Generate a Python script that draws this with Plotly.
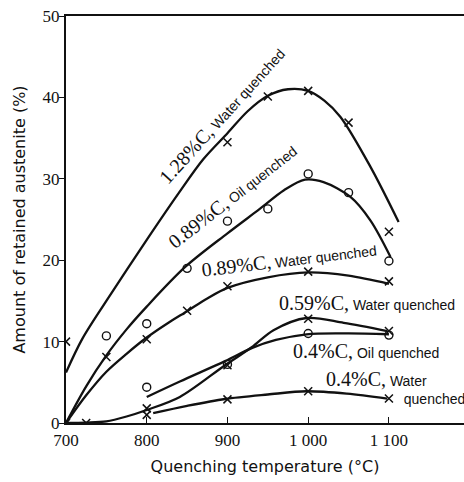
import plotly.graph_objects as go

# ---- marker data (measured points) ----
T_128 = [700, 900, 950, 1000, 1050, 1100]
V_128 = [10.0, 34.5, 40.1, 40.8, 36.9, 23.5]

T_089_OIL = [750, 800, 850, 900, 950, 1000, 1050, 1100]
V_089_OIL = [10.7, 12.2, 19.0, 24.8, 26.3, 30.6, 28.3, 19.9]

T_089_W = [750, 800, 850, 900, 1000, 1100]
V_089_W = [8.1, 10.3, 13.8, 16.8, 18.6, 17.4]

T_059_W = [700, 725, 800, 900, 1000, 1100]
V_059_W = [0.0, 0.0, 1.8, 7.1, 12.8, 11.3]

T_04_OIL = [800, 900, 1000, 1100]
V_04_OIL = [4.4, 7.2, 11.0, 10.8]

T_04_W = [800, 900, 1000, 1100]
V_04_W = [1.0, 2.9, 3.9, 3.0]

# ---- hand-drawn fitted curves ----
CT_128 = [700, 720, 750, 800, 840, 870, 900, 925, 950, 975, 1000, 1020, 1040, 1077, 1112]
CV_128 = [6.2, 10.3, 15.0, 22.5, 28.3, 32.4, 35.6, 38.3, 40.2, 41.0, 40.8, 39.6, 37.6, 31.5, 24.7]

CT_089_OIL = [700, 725, 750, 775, 800, 848, 900, 940, 970, 996, 1019, 1052, 1077, 1102]
CV_089_OIL = [0.0, 4.5, 8.3, 11.5, 14.3, 19.2, 23.3, 26.3, 28.6, 29.9, 29.6, 27.8, 24.9, 20.4]

CT_089_W = [700, 725, 750, 775, 800, 825, 851, 875, 900, 950, 1000, 1050, 1100]
CV_089_W = [0.0, 3.4, 6.3, 8.5, 10.5, 12.2, 13.8, 15.3, 16.6, 17.9, 18.5, 18.1, 17.1]

CT_059_W = [700, 725, 750, 775, 800, 841, 897, 930, 957, 998, 1044, 1098]
CV_059_W = [0.0, 0.05, 0.2, 0.8, 1.6, 3.2, 7.1, 9.3, 11.4, 12.9, 12.3, 11.3]

CT_04_OIL = [800, 841, 897, 930, 960, 998, 1050, 1100]
CV_04_OIL = [3.2, 5.1, 7.6, 9.2, 10.2, 10.9, 11.0, 10.9]

CT_04_W = [808, 850, 897, 950, 998, 1048, 1098]
CV_04_W = [1.2, 2.1, 2.95, 3.5, 3.9, 3.6, 3.0]

X_TICKS = [700, 800, 900, 1000, 1100]
X_TICK_TEXT = ["700", "800", "900", "1 000", "1 100"]
Y_TICKS = [0, 10, 20, 30, 40, 50]

INK = "#111111"
SERIF = "Liberation Serif"
SANS = "Liberation Sans"
TITLE_FONT = "DejaVu Sans"

fig = go.Figure()

for ct, cv in [(CT_128, CV_128), (CT_089_OIL, CV_089_OIL), (CT_089_W, CV_089_W),
               (CT_059_W, CV_059_W), (CT_04_OIL, CV_04_OIL), (CT_04_W, CV_04_W)]:
    fig.add_trace(go.Scatter(x=ct, y=cv, mode="lines",
                             line=dict(color=INK, width=2.3, shape="spline", smoothing=0.9),
                             hoverinfo="skip", showlegend=False))

for t, v in [(T_128, V_128), (T_089_W, V_089_W), (T_059_W, V_059_W), (T_04_W, V_04_W)]:
    fig.add_trace(go.Scatter(x=t, y=v, mode="markers",
                             marker=dict(symbol="x-thin-open", size=8, color=INK,
                                         line=dict(color=INK, width=1.5)),
                             showlegend=False))

for t, v in [(T_089_OIL, V_089_OIL), (T_04_OIL, V_04_OIL)]:
    fig.add_trace(go.Scatter(x=t, y=v, mode="markers",
                             marker=dict(symbol="circle-open", size=8, color=INK,
                                         line=dict(color=INK, width=1.4)),
                             showlegend=False))


def lab(serif_part, sans_part):
    return (f"<span style=\"font-family:'{SERIF}';font-size:20px\">{serif_part}</span>"
            f"{sans_part}")


annots = [
    (893.3, 37.8, -48, "center", lab("1.28%C,", " Water quenched")),
    (905.7, 27.9, -38, "center", lab("0.89%C,", " Oil quenched")),
    (976.8, 20.1, -7, "center", lab("0.89%C,", " Water quenched")),
    (1072.4, 14.7, 0, "center", lab("0.59%C,", " Water quenched")),
    (1071.1, 8.85, 0, "center", lab("0.4%C,", " Oil quenched")),
    (1019.7, 4.4, 0, "left", lab("0.4%C,", " Water") + "<br>" + "&nbsp;" * 20 + "quenched"),
]
for x, y, ang, xa, txt in annots:
    fig.add_annotation(x=x, y=y, text=txt, textangle=ang, showarrow=False,
                       xanchor=xa, yanchor="middle", align="left",
                       font=dict(family=SANS, size=14, color=INK))

fig.update_layout(
    width=464, height=482,
    margin=dict(l=66, r=0, t=16, b=59),
    paper_bgcolor="white", plot_bgcolor="white",
    showlegend=False,
)
fig.update_xaxes(
    range=[700, 1193], tickvals=X_TICKS, ticktext=X_TICK_TEXT,
    showgrid=False, zeroline=False,
    showline=True, linecolor=INK, linewidth=2, mirror=True,
    ticks="inside", ticklen=6, tickwidth=1.2, tickcolor=INK,
    ticklabelstandoff=1,
    tickfont=dict(family=SERIF, size=17, color=INK),
    title=dict(text="Quenching temperature (°C)", font=dict(family=TITLE_FONT, size=16, color=INK),
               standoff=11),
)
fig.update_yaxes(
    range=[0, 50], tickvals=Y_TICKS,
    showgrid=False, zeroline=False,
    showline=True, linecolor=INK, linewidth=2, mirror=False,
    ticks="outside", ticklen=5, tickwidth=1.2, tickcolor=INK,
    ticklabelstandoff=-4,
    tickfont=dict(family=SERIF, size=17, color=INK),
    title=dict(text="Amount of retained austenite (%)", font=dict(family=TITLE_FONT, size=16, color=INK),
               standoff=13),
)

fig.write_html("out.html")
